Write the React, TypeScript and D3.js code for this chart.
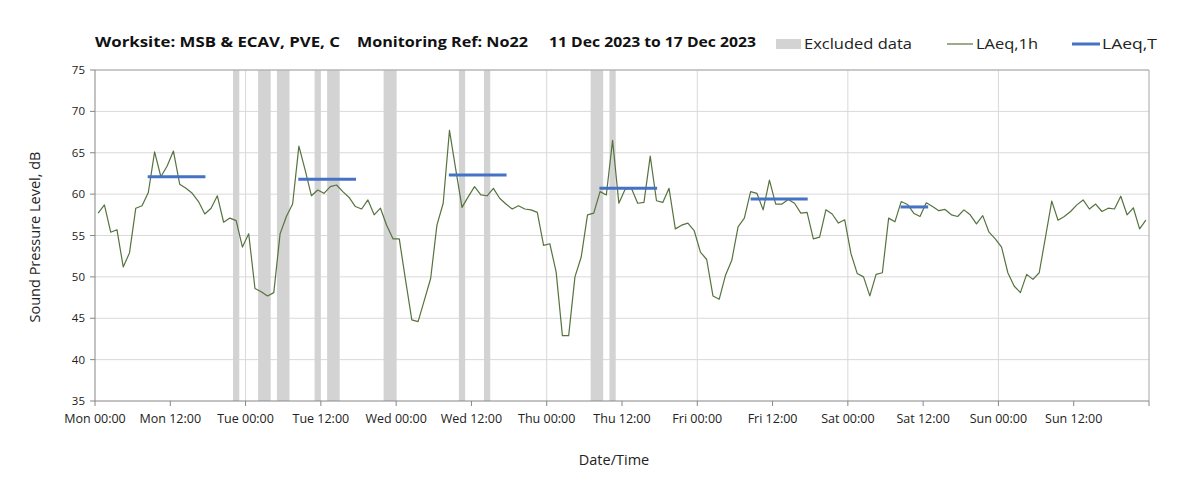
import React from "react";
import * as d3 from "d3";

// Hourly LAeq,1h values (dB), Mon 00:00 -> Sun 23:00, plotted at mid-hour
const hourlyLevels: number[] = [
  57.7, 58.7, 55.4, 55.7, 51.2, 52.9, 58.3, 58.6, 60.2, 65.1, 62.1, 63.4,
  65.2, 61.2, 60.7, 60.1, 59.1, 57.6, 58.3, 59.8, 56.6, 57.1, 56.8, 53.6,
  55.2, 48.6, 48.2, 47.7, 48.1, 55.2, 57.3, 58.8, 65.8, 62.9, 59.8, 60.5,
  60.1, 60.9, 61.1, 60.3, 59.6, 58.5, 58.2, 59.3, 57.5, 58.3, 56.2, 54.6,
  54.6, 49.6, 44.8, 44.6, 47.2, 49.8, 56.25, 58.9, 67.7, 63.0, 58.4, 59.7,
  60.9, 59.9, 59.8, 60.7, 59.5, 58.8, 58.2, 58.6, 58.2, 58.1, 57.8, 53.8,
  54.0, 50.6, 42.9, 42.9, 50.0, 52.4, 57.5, 57.7, 60.3, 59.9, 66.5, 58.9,
  60.6, 60.7, 58.9, 59.0, 64.6, 59.2, 59.0, 60.7, 55.8, 56.25, 56.5, 55.6,
  53.0, 52.1, 47.7, 47.3, 50.2, 52.0, 56.05, 57.1, 60.3, 60.1, 58.1, 61.7,
  58.8, 58.8, 59.35, 58.9, 57.7, 57.8, 54.6, 54.8, 58.1, 57.6, 56.5, 56.9,
  52.8, 50.4, 50.0, 47.7, 50.3, 50.5, 57.1, 56.65, 59.1, 58.75, 57.7, 57.3,
  58.95, 58.5, 58.0, 58.15, 57.5, 57.3, 58.1, 57.5, 56.4, 57.4, 55.4, 54.6,
  53.6, 50.5, 48.9, 48.1, 50.3, 49.7, 50.5, 54.8, 59.15, 56.85, 57.3, 57.9,
  58.7, 59.3, 58.2, 58.8, 57.9, 58.3, 58.2, 59.75, 57.5, 58.35, 55.8, 56.85,
];

// Excluded data periods [start hour, end hour] from Mon 00:00
const excludedStart: number[] = [22, 26, 29, 35, 37, 46, 58, 62, 79, 82];
const excludedEnd: number[] = [23, 28, 31, 36, 39, 48, 59, 63, 81, 83];

// LAeq,T daytime segments
const laeqTStart: number[] = [8.4, 32.4, 56.4, 80.4, 104.5, 128.4];
const laeqTEnd: number[] = [17.6, 41.6, 65.6, 89.6, 113.6, 132.8];
const laeqTValue: number[] = [62.1, 61.8, 62.3, 60.7, 59.4, 58.45];

const dayNames: string[] = ["Mon", "Tue", "Wed", "Thu", "Fri", "Sat", "Sun"];
const clockLabels: string[] = ["00:00", "12:00"];
const yTicks: number[] = [35, 40, 45, 50, 55, 60, 65, 70, 75];

const FONT = "'Open Sans', 'Noto Sans', sans-serif";

export default function App() {
  const W = 1203, H = 490;
  const x = d3.scaleLinear().domain([0, 168]).range([95, 1149]);
  const y = d3.scaleLinear().domain([35, 75]).range([401, 70]);
  const [x0, x1] = x.range();
  const [yb, yt] = y.range();

  const line = d3
    .line<number>()
    .x((_, i) => x(i + 0.5))
    .y((v) => y(v));

  const xTicks = d3.range(0, 169, 12);
  const dayLines = d3.range(24, 168, 24);
  const labelTicks = d3.range(0, 168, 12);

  return (
    <div style={{ position: "fixed", left: 0, top: 0 }}>
      <svg width={W} height={H} style={{ display: "block", background: "#fff" }}>
        {/* horizontal gridlines */}
        {yTicks.slice(1).map((t) => (
          <line key={"hg" + t} x1={x0} x2={x1} y1={y(t)} y2={y(t)} stroke="#d9d9d9" strokeWidth={1} />
        ))}
        {/* vertical day gridlines */}
        {dayLines.map((h) => (
          <line key={"vg" + h} x1={x(h)} x2={x(h)} y1={yt} y2={yb} stroke="#d9d9d9" strokeWidth={1} />
        ))}
        {/* excluded bands */}
        {excludedStart.map((s, i) => (
          <rect key={"ex" + i} x={x(s)} y={yt} width={x(excludedEnd[i]) - x(s)} height={yb - yt} fill="#d3d3d3" />
        ))}
        {/* plot border top/right */}
        <line x1={x0} x2={x1} y1={yt} y2={yt} stroke="#a6a6a6" strokeWidth={1} />
        <line x1={x1} x2={x1} y1={yt} y2={yb} stroke="#a6a6a6" strokeWidth={1} />
        {/* axes */}
        <line x1={x0} x2={x0} y1={yt} y2={yb} stroke="#868686" strokeWidth={1} />
        <line x1={x0} x2={x1} y1={yb} y2={yb} stroke="#868686" strokeWidth={1} />
        {yTicks.map((t) => (
          <g key={"yt" + t}>
            <line x1={x0 - 5} x2={x0} y1={y(t)} y2={y(t)} stroke="#868686" />
            <text x={x0 - 10} y={y(t)} dy="0.35em" textAnchor="end" fontFamily={FONT} fontSize={11.5} fill="#222">
              {t}
            </text>
          </g>
        ))}
        {xTicks.map((h) => (
          <line key={"xt" + h} x1={x(h)} x2={x(h)} y1={yb} y2={yb + 5} stroke="#868686" />
        ))}
        {labelTicks.map((h) => (
          <text key={"xl" + h} x={x(h)} y={419} dy="0.35em" textAnchor="middle" fontFamily={FONT} fontSize={12.5} fill="#222">
            {dayNames[Math.floor(h / 24)] + " " + clockLabels[(h % 24) / 12]}
          </text>
        ))}
        {/* LAeq,1h line */}
        <path d={line(hourlyLevels) || ""} fill="none" stroke="#56733f" strokeWidth={1.2} strokeLinejoin="round" />
        {/* LAeq,T segments */}
        {laeqTValue.map((v, i) => (
          <line key={"lt" + i} x1={x(laeqTStart[i])} x2={x(laeqTEnd[i])} y1={y(v)} y2={y(v)} stroke="#4472c4" strokeWidth={3} />
        ))}
        {/* title */}
        <g fontFamily={FONT} fontWeight="bold" fontSize={14.5} fill="#111">
          <text x={95} y={42} dy="0.35em" textLength={245} lengthAdjust="spacingAndGlyphs">Worksite: MSB &amp; ECAV, PVE, C</text>
          <text x={357} y={42} dy="0.35em" textLength={171} lengthAdjust="spacingAndGlyphs">Monitoring Ref: No22</text>
          <text x={549} y={42} dy="0.35em" textLength={207} lengthAdjust="spacingAndGlyphs">11 Dec 2023 to 17 Dec 2023</text>
        </g>
        {/* legend */}
        <rect x={776} y={39} width={25} height={10} fill="#d3d3d3" />
        <text x={804} y={44} dy="0.35em" fontFamily={FONT} fontSize={14.5} fill="#222" textLength={108} lengthAdjust="spacingAndGlyphs">Excluded data</text>
        <line x1={947} x2={973} y1={44} y2={44} stroke="#56733f" strokeWidth={1.2} />
        <text x={976} y={44} dy="0.35em" fontFamily={FONT} fontSize={14.5} fill="#222" textLength={62} lengthAdjust="spacingAndGlyphs">LAeq,1h</text>
        <line x1={1072} x2={1100} y1={44} y2={44} stroke="#4472c4" strokeWidth={3} />
        <text x={1102} y={44} dy="0.35em" fontFamily={FONT} fontSize={14.5} fill="#222" textLength={55} lengthAdjust="spacingAndGlyphs">LAeq,T</text>
        {/* axis titles */}
        <text transform={`translate(35,237) rotate(-90)`} dy="0.35em" textAnchor="middle" fontFamily={FONT} fontSize={14.5} fill="#222">
          Sound Pressure Level, dB
        </text>
        <text x={614} y={460} dy="0.35em" textAnchor="middle" fontFamily={FONT} fontSize={14.5} fill="#222">
          Date/Time
        </text>
      </svg>
    </div>
  );
}
